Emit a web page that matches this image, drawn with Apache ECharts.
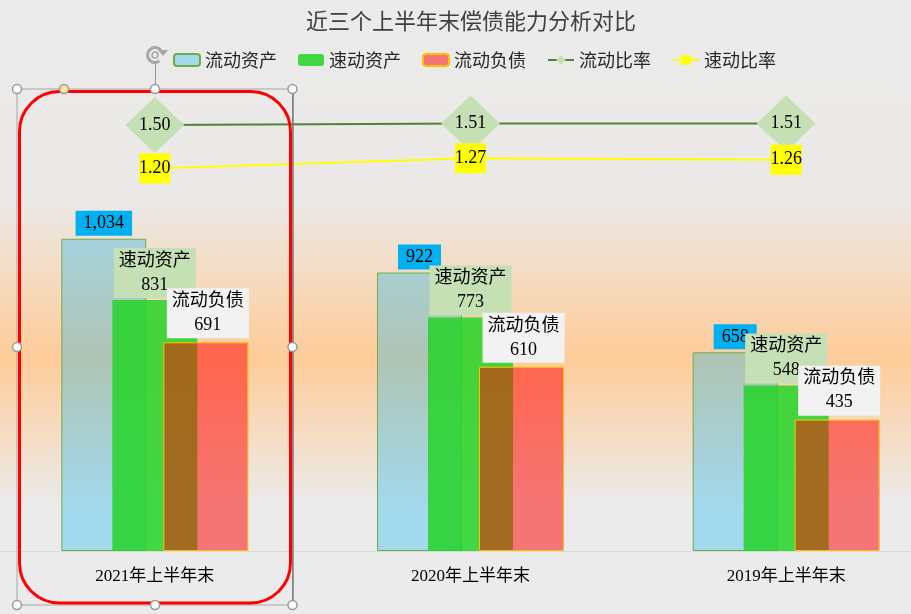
<!DOCTYPE html>
<html>
<head>
<meta charset="utf-8">
<script src="https://cdn.jsdelivr.net/npm/echarts@6/dist/echarts.min.js"></script>
<style>
html,body{margin:0;padding:0;background:#ebebeb;}
#chart{width:911px;height:614px;}
</style>
</head>
<body>
<div id="chart"></div>
<script>
// ---- data ----
const categories = ['2021年上半年末', '2020年上半年末', '2019年上半年末'];
const currentAssets = [1034, 922, 658];        // 流动资产
const quickAssets = [831, 773, 548];           // 速动资产
const currentLiabilities = [691, 610, 435];    // 流动负债
const currentRatio = [1.50, 1.51, 1.51];       // 流动比率
const quickRatio = [1.20, 1.27, 1.26];         // 速动比率
const seriesNames = ['流动资产', '速动资产', '流动负债', '流动比率', '速动比率'];

const serif = "'Times New Roman','Liberation Serif','Noto Sans CJK SC',serif";
const sans = "'Noto Sans CJK SC','Microsoft YaHei',sans-serif";

const chart = echarts.init(document.getElementById('chart'), null, {renderer: 'canvas'});

function handle(x, y, fill) {
  return {type: 'circle', shape: {cx: x, cy: y, r: 4.5}, style: {fill: fill || '#ffffff', stroke: '#9a9a9a', lineWidth: 1.5}, z: 110, silent: true};
}

const option = {
  animation: false,
  backgroundColor: {
    type: 'linear', x: 0, y: 0, x2: 0, y2: 1,
    colorStops: [
      {offset: 0, color: '#ebebeb'},
      {offset: 200 / 614, color: '#ebe9e7'},
      {offset: 358 / 614, color: '#ffcc99'},
      {offset: 505 / 614, color: '#ebebeb'},
      {offset: 1, color: '#ebebeb'}
    ]
  },
  title: {
    text: '近三个上半年末偿债能力分析对比',
    left: 306, top: 10, padding: 0,
    textStyle: {fontSize: 22, fontWeight: 'normal', color: '#404040', fontFamily: sans}
  },
  legend: {
    data: seriesNames,
    left: 173, top: 51, padding: 0,
    itemGap: 21, itemWidth: 26, itemHeight: 12,
    textStyle: {fontSize: 18, color: '#262626', fontFamily: sans}
  },
  grid: {left: -3, width: 947, top: 5, height: 546, containLabel: false, outerBoundsMode: 'none'},
  xAxis: {
    type: 'category',
    data: categories,
    axisLine: {show: true, lineStyle: {color: '#d9d9d9', width: 1}},
    axisTick: {show: false},
    axisLabel: {fontSize: 17, color: '#000', margin: 17, fontFamily: serif},
    splitLine: {show: false}
  },
  yAxis: [
    {type: 'value', min: 0, max: 1808, show: false, splitLine: {show: false}},
    {type: 'value', min: -1.439, max: 2.327, show: false, splitLine: {show: false}}
  ],
  series: [
    {
      name: seriesNames[0], type: 'bar', data: currentAssets,
      barWidth: 85, barGap: '-40%',
      itemStyle: {color: 'rgba(0,176,240,0.31)', borderColor: '#70ad47', borderWidth: 1},
      label: {
        show: true, position: 'top', distance: 3,
        formatter: p => p.value.toLocaleString('en-US'),
        backgroundColor: '#00b0f0', padding: [1, 8], lineHeight: 23,
        fontSize: 18, color: '#000', fontFamily: serif
      }
    },
    {
      name: seriesNames[1], type: 'bar', data: quickAssets,
      barWidth: 85, barGap: '-40%',
      itemStyle: {color: 'rgba(37,211,40,0.85)'},
      label: {
        show: true, position: 'top', distance: 2,
        formatter: p => seriesNames[1] + '\n' + p.value,
        backgroundColor: '#c5e0b4', padding: [1, 5], lineHeight: 24,
        fontSize: 18, color: '#000', fontFamily: serif
      }
    },
    {
      name: seriesNames[2], type: 'bar', data: currentLiabilities,
      barWidth: 85, barGap: '-40%',
      itemStyle: {color: 'rgba(255,0,0,0.5)', borderColor: '#ffc000', borderWidth: 1},
      label: {
        show: true, position: 'top', distance: 4, offset: [2, 0],
        formatter: p => seriesNames[2] + '\n' + p.value,
        backgroundColor: '#f2f2f2', padding: [1, 5], lineHeight: 24,
        fontSize: 18, color: '#000', fontFamily: serif
      }
    },
    {
      name: seriesNames[3], type: 'line', yAxisIndex: 1, data: currentRatio,
      symbol: 'diamond', symbolSize: [59, 56],
      itemStyle: {color: '#c5e0b4'},
      lineStyle: {color: '#548235', width: 2},
      label: {show: true, position: 'inside', formatter: p => p.value.toFixed(2), fontSize: 18, color: '#000', fontFamily: serif},
      z: 5
    },
    {
      name: seriesNames[4], type: 'line', yAxisIndex: 1, data: quickRatio,
      symbol: 'rect', symbolSize: [31, 30],
      itemStyle: {color: '#ffff00'},
      lineStyle: {color: '#ffff00', width: 2},
      label: {show: true, position: 'inside', formatter: p => p.value.toFixed(2), fontSize: 18, color: '#000', fontFamily: serif},
      z: 5
    }
  ],
  graphic: [
    // selection frame
    {type: 'rect', shape: {x: 17, y: 89, width: 275.5, height: 516}, style: {fill: 'none', stroke: '#a6a6a6', lineWidth: 1}, z: 100, silent: true},
    {type: 'line', shape: {x1: 293, y1: 89, x2: 293, y2: 605}, style: {stroke: '#7a7a7a', lineWidth: 1.5}, z: 101, silent: true},
    // red rounded highlight
    {type: 'rect', shape: {x: 19.5, y: 91.5, width: 271, height: 511.5, r: 40}, style: {fill: 'none', stroke: '#ff0000', lineWidth: 3}, z: 102, silent: true},
    // rotation handle
    {type: 'line', shape: {x1: 155.5, y1: 63, x2: 155.5, y2: 85}, style: {stroke: '#9a9a9a', lineWidth: 1}, z: 103, silent: true},
    {type: 'arc', shape: {cx: 155, cy: 55, r: 7.5, startAngle: Math.PI * 0.3, endAngle: Math.PI * 1.8, clockwise: true}, style: {fill: 'none', stroke: '#a6a6a6', lineWidth: 3}, z: 103, silent: true},
    {type: 'arc', shape: {cx: 155, cy: 55, r: 3, startAngle: 0, endAngle: Math.PI * 2}, style: {fill: 'none', stroke: '#a6a6a6', lineWidth: 1.5}, z: 103, silent: true},
    {type: 'polygon', shape: {points: [[158, 50], [168, 50], [163, 56]]}, style: {fill: '#a6a6a6'}, z: 103, silent: true},
    handle(17, 89), handle(64, 89, '#ffe699'), handle(155, 89), handle(292.5, 89),
    handle(17, 347), handle(292.5, 347),
    handle(17, 605), handle(155, 605), handle(292.5, 605)
  ]
};
chart.setOption(option);
</script>
</body>
</html>
